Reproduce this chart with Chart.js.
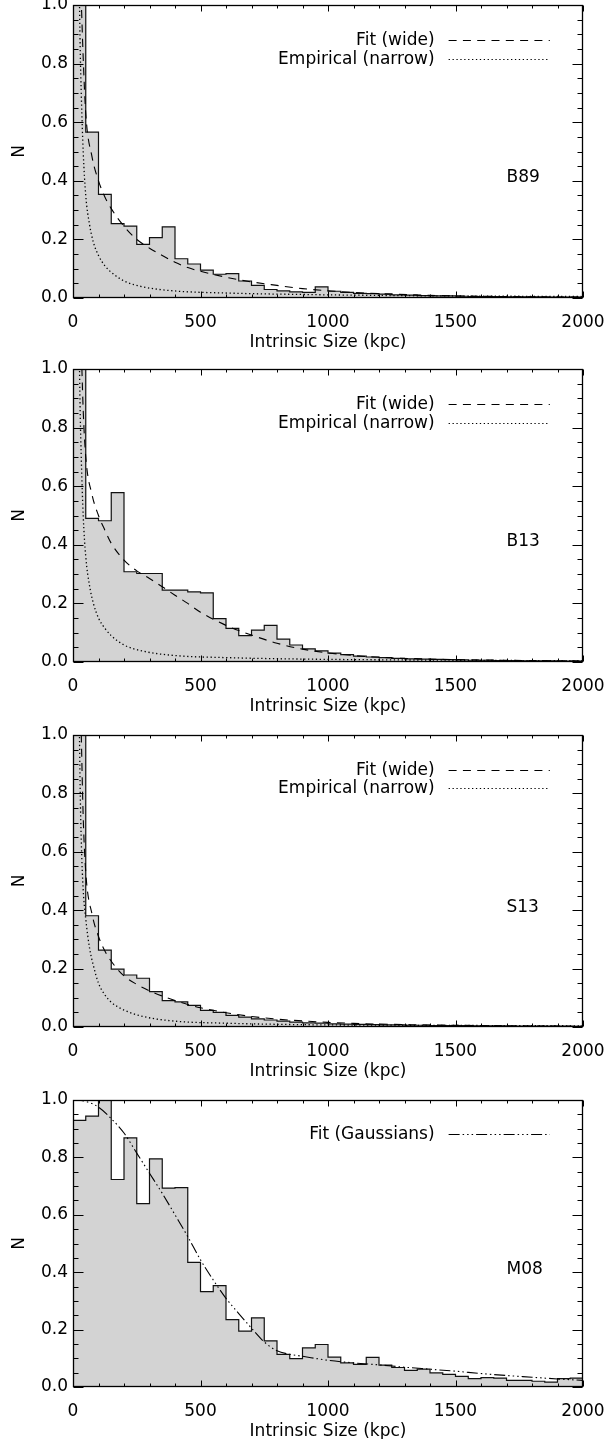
<!DOCTYPE html>
<html>
<head>
<meta charset="utf-8">
<script src="https://cdn.jsdelivr.net/npm/chart.js@4.4.1/dist/chart.umd.min.js"></script>
<style>
  html, body { margin: 0; padding: 0; background: #fff; width: 605px; height: 1439px; overflow: hidden; position: relative; }
  canvas { position: absolute; left: 0; }
</style>
</head>
<body>
<canvas id="c0"></canvas>
<canvas id="c1"></canvas>
<canvas id="c2"></canvas>
<canvas id="c3"></canvas>
<script>
// ---------------- DATA ----------------
const BIN_WIDTH = 50;            // kpc per histogram bin
const X_MAX = 2000;
const xTickValues = [0, 500, 1000, 1500, 2000];
const yTickValues = [0.0, 0.2, 0.4, 0.6, 0.8, 1.0];
const xMinorStep = 100;
const yMinorStep = 0.05;
const xTitle = 'Intrinsic Size (kpc)';
const yTitle = 'N';
const panelLabels = ['B89', 'B13', 'S13', 'M08'];
const legendWide = 'Fit (wide)';
const legendNarrow = 'Empirical (narrow)';
const legendGauss = 'Fit (Gaussians)';

// histogram heights, one per 50 kpc bin (0-2000 kpc)
const b89Hist = [1.6, 0.566, 0.354, 0.254, 0.245, 0.183, 0.206, 0.243, 0.134, 0.116,
                 0.095, 0.081, 0.083, 0.058, 0.043, 0.029, 0.024, 0.021, 0.019, 0.038,
                 0.023, 0.019, 0.016, 0.015, 0.013, 0.011, 0.010, 0.008, 0.007, 0.007,
                 0.006, 0.005, 0.005, 0.005, 0.004, 0.004, 0.004, 0.003, 0.003, 0.003];
const b13Hist = [1.5, 0.490, 0.482, 0.578, 0.308, 0.302, 0.302, 0.245, 0.245, 0.239,
                 0.236, 0.148, 0.115, 0.090, 0.109, 0.125, 0.078, 0.058, 0.045, 0.038,
                 0.030, 0.025, 0.020, 0.017, 0.015, 0.0125, 0.011, 0.010, 0.009, 0.008,
                 0.007, 0.006, 0.006, 0.005, 0.005, 0.004, 0.004, 0.004, 0.003, 0.003];
const s13Hist = [1.7, 0.381, 0.263, 0.198, 0.178, 0.167, 0.121, 0.090, 0.086, 0.074,
                 0.057, 0.050, 0.040, 0.034, 0.028, 0.024, 0.020, 0.017, 0.014, 0.013,
                 0.011, 0.010, 0.009, 0.008, 0.007, 0.007, 0.006, 0.006, 0.005, 0.005,
                 0.005, 0.004, 0.004, 0.004, 0.003, 0.003, 0.003, 0.003, 0.003, 0.002];
const m08Hist = [0.929, 0.944, 1.0, 0.723, 0.868, 0.639, 0.795, 0.693, 0.695, 0.434,
                 0.332, 0.353, 0.235, 0.195, 0.241, 0.161, 0.114, 0.099, 0.136, 0.148,
                 0.104, 0.084, 0.079, 0.103, 0.076, 0.068, 0.058, 0.062, 0.049, 0.044,
                 0.037, 0.029, 0.033, 0.031, 0.023, 0.023, 0.020, 0.017, 0.029, 0.031];

// "Fit (wide)" curves
const fitX   = [30, 40, 50, 75, 100, 125, 150, 200, 250, 300, 350, 400, 450, 500, 600, 700, 800, 900, 1000, 1100, 1200, 1400, 1600, 1800, 2000];
const b89Fit = [1.08, 0.82, 0.63, 0.48, 0.40, 0.345, 0.305, 0.245, 0.200, 0.170, 0.145, 0.122, 0.104, 0.091, 0.071, 0.055, 0.043, 0.032, 0.025, 0.019, 0.015, 0.009, 0.006, 0.004, 0.003];
const b13Fit = [1.15, 0.86, 0.70, 0.57, 0.50, 0.45, 0.405, 0.348, 0.311, 0.285, 0.257, 0.228, 0.200, 0.170, 0.125, 0.092, 0.064, 0.044, 0.031, 0.022, 0.016, 0.010, 0.007, 0.005, 0.0035];
const s13Fit = [1.10, 0.72, 0.53, 0.385, 0.31, 0.26, 0.225, 0.175, 0.146, 0.124, 0.106, 0.091, 0.077, 0.066, 0.049, 0.036, 0.027, 0.021, 0.016, 0.0125, 0.010, 0.007, 0.005, 0.0035, 0.0025];

// "Empirical (narrow)" curves
const empX   = [24, 28, 33, 40, 50, 65, 80, 100, 125, 150, 200, 275, 400, 600, 900, 1300, 2000];
const b89Emp = [1.1, 0.86, 0.68, 0.50, 0.35, 0.25, 0.19, 0.145, 0.11, 0.088, 0.058, 0.038, 0.024, 0.017, 0.012, 0.008, 0.005];
const b13Emp = [1.1, 0.86, 0.68, 0.50, 0.36, 0.26, 0.20, 0.15, 0.115, 0.09, 0.058, 0.037, 0.022, 0.015, 0.010, 0.007, 0.004];
const s13Emp = [1.1, 0.82, 0.62, 0.47, 0.37, 0.27, 0.21, 0.15, 0.11, 0.085, 0.058, 0.036, 0.020, 0.013, 0.008, 0.006, 0.004];

// "Fit (Gaussians)" curve for M08
const gaussX   = [0, 50, 100, 150, 200, 250, 300, 350, 400, 450, 500, 550, 600, 650, 700, 750, 800, 850, 900, 1000, 1100, 1200, 1300, 1400, 1500, 1600, 1700, 1800, 1900, 2000];
const m08Gauss = [1.0, 0.995, 0.975, 0.935, 0.885, 0.815, 0.745, 0.675, 0.600, 0.524, 0.443, 0.373, 0.309, 0.256, 0.205, 0.157, 0.126, 0.114, 0.107, 0.093, 0.084, 0.077, 0.069, 0.062, 0.055, 0.047, 0.040, 0.034, 0.028, 0.023];

// ---------------- LAYOUT / STYLE ----------------
const FONT = '"DejaVu Sans", "Liberation Sans", sans-serif';
const FS = 17;
const PADT = 20, AXH = 60, AXW = 73, RIGHT = 583;
const panelGeom = [
  { top: 5,    bottom: 298 },
  { top: 369,  bottom: 662 },
  { top: 735,  bottom: 1027 },
  { top: 1100, bottom: 1387 }
];
const DASH = [8, 6.3];
const DOT = [1.3, 2.6];
const DASH3DOT = [11, 3, 1.5, 3, 1.5, 3, 1.5, 3];
const LEG_TEXT_X = 1418, LEG_LINE_X0 = 1473, LEG_LINE_X1 = 1870;
const LEG_ROW_Y = [0.88, 0.817];
const LABEL_POS = { x: 1700, y: 0.395 };

function histPoints(vals) {
  const pts = vals.map((v, i) => ({ x: i * BIN_WIDTH, y: v }));
  pts.push({ x: vals.length * BIN_WIDTH, y: vals[vals.length - 1] });
  return pts;
}
function curvePoints(xs, ys) { return xs.map((x, i) => ({ x: x, y: ys[i] })); }

function histDataset(vals) {
  return {
    data: histPoints(vals), stepped: 'before', fill: 'origin',
    backgroundColor: '#d3d3d3', borderColor: '#111', borderWidth: 1.2,
    pointRadius: 0, order: 5
  };
}
function curveDataset(xs, ys, dash) {
  return {
    data: curvePoints(xs, ys), fill: false, borderColor: '#000',
    borderWidth: dash === DOT ? 1.3 : 1.1,
    borderDash: dash, pointRadius: 0, cubicInterpolationMode: 'monotone', order: 1
  };
}

function makeChart(idx, datasets, legend, label) {
  const g = panelGeom[idx];
  const canvas = document.getElementById('c' + idx);
  canvas.width = 605;
  canvas.height = g.bottom - g.top + PADT + AXH;
  canvas.style.top = (g.top - PADT) + 'px';

  const decor = {
    id: 'decor' + idx,
    afterDraw(chart) {
      const { ctx, chartArea: a, scales: { x, y } } = chart;
      const L = Math.round(a.left) + 0.5, R = Math.round(a.right) - 0.5;
      const T = Math.round(a.top) + 0.5, B = Math.round(a.bottom) - 0.5;
      ctx.save();
      ctx.strokeStyle = '#000';
      ctx.lineWidth = 1.3;
      ctx.setLineDash([]);
      const seg = (x0, y0, x1, y1) => { ctx.beginPath(); ctx.moveTo(x0, y0); ctx.lineTo(x1, y1); ctx.stroke(); };
      ctx.strokeRect(L, T, R - L, B - T);
      ctx.lineWidth = 1;
      for (let v = 0; v <= X_MAX + 1e-9; v += xMinorStep) {
        const px = Math.round(x.getPixelForValue(v)) + 0.5;
        const len = xTickValues.includes(v) ? 6 : 3;
        seg(px, B, px, B - len);
        seg(px, T, px, T + len);
      }
      const nY = Math.round(1 / yMinorStep);
      for (let k = 0; k <= nY; k++) {
        const v = k * yMinorStep;
        const py = Math.round(y.getPixelForValue(v)) + 0.5;
        const len = (k % 4 === 0) ? 10 : 5;
        seg(L, py, L + len, py);
        seg(R, py, R - len, py);
      }
      // legend
      ctx.font = FS + 'px ' + FONT;
      ctx.fillStyle = '#000';
      ctx.textAlign = 'right';
      ctx.textBaseline = 'alphabetic';
      legend.forEach((e, i) => {
        const py = Math.round(y.getPixelForValue(LEG_ROW_Y[i])) + 0.5;
        ctx.fillText(e.text, x.getPixelForValue(LEG_TEXT_X), py + 4);
        ctx.setLineDash(e.dash);
        ctx.lineWidth = e.dash === DOT ? 1.2 : 1;
        seg(x.getPixelForValue(LEG_LINE_X0), py, x.getPixelForValue(LEG_LINE_X1), py);
      });
      ctx.setLineDash([]);
      ctx.textAlign = 'left';
      ctx.fillText(label, x.getPixelForValue(LABEL_POS.x), y.getPixelForValue(LABEL_POS.y));
      ctx.restore();
    }
  };

  return new Chart(canvas, {
    type: 'line',
    data: { datasets: datasets },
    options: {
      responsive: false,
      animation: false,
      events: [],
      layout: { padding: { top: PADT, right: 605 - RIGHT, left: 0, bottom: 0 } },
      plugins: { legend: { display: false }, tooltip: { enabled: false } },
      scales: {
        x: {
          type: 'linear', min: 0, max: X_MAX,
          afterBuildTicks: s => { s.ticks = xTickValues.map(v => ({ value: v })); },
          afterFit: s => { s.height = AXH; s.paddingLeft = 0; s.paddingRight = 0; },
          grid: { display: false, drawTicks: false },
          border: { display: false },
          ticks: { padding: 14, color: '#000', autoSkip: false, maxRotation: 0,
                   font: { family: FONT, size: FS }, callback: v => String(v) },
          title: { display: true, text: xTitle, color: '#000',
                   font: { family: FONT, size: FS }, padding: { top: 0, bottom: 5 } }
        },
        y: {
          type: 'linear', min: 0, max: 1,
          afterBuildTicks: s => { s.ticks = yTickValues.map(v => ({ value: v })); },
          afterFit: s => { s.width = AXW; s.paddingTop = 0; s.paddingBottom = 0; },
          grid: { display: false, drawTicks: false },
          border: { display: false },
          ticks: { padding: 5, color: '#000', autoSkip: false,
                   font: { family: FONT, size: FS }, callback: v => Number(v).toFixed(1) },
          title: { display: true, text: yTitle, color: '#000',
                   font: { family: FONT, size: FS }, padding: { top: 9, bottom: 0 } }
        }
      }
    },
    plugins: [decor]
  });
}

const wideLegend = [{ text: legendWide, dash: DASH }, { text: legendNarrow, dash: DOT }];

makeChart(0, [curveDataset(fitX, b89Fit, DASH), curveDataset(empX, b89Emp, DOT), histDataset(b89Hist)], wideLegend, panelLabels[0]);
makeChart(1, [curveDataset(fitX, b13Fit, DASH), curveDataset(empX, b13Emp, DOT), histDataset(b13Hist)], wideLegend, panelLabels[1]);
makeChart(2, [curveDataset(fitX, s13Fit, DASH), curveDataset(empX, s13Emp, DOT), histDataset(s13Hist)], wideLegend, panelLabels[2]);
makeChart(3, [curveDataset(gaussX, m08Gauss, DASH3DOT), histDataset(m08Hist)], [{ text: legendGauss, dash: DASH3DOT }], panelLabels[3]);
</script>
</body>
</html>
